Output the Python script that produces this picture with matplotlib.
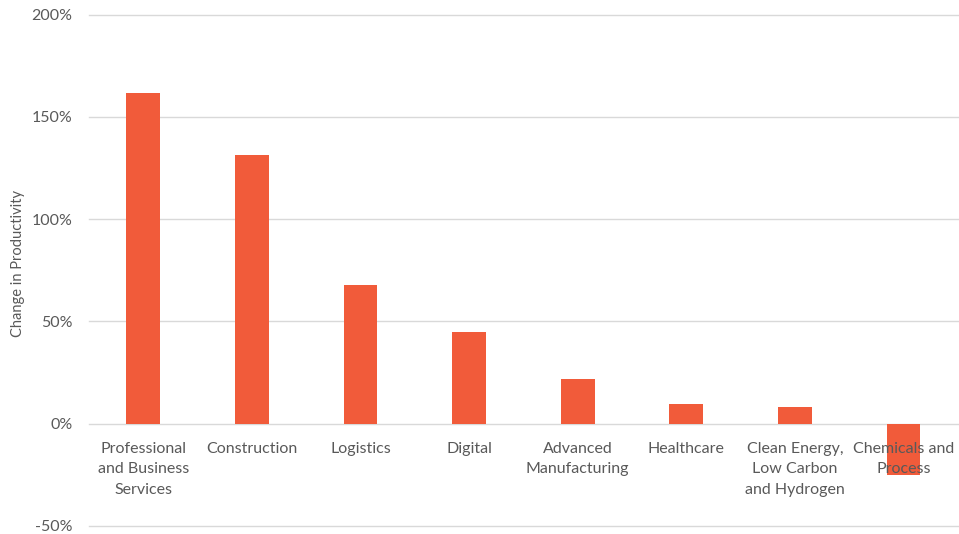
import matplotlib
matplotlib.use("Agg")
import matplotlib.pyplot as plt
from matplotlib.ticker import FuncFormatter

categories = [
    "Professional\nand Business\nServices",
    "Construction",
    "Logistics",
    "Digital",
    "Advanced\nManufacturing",
    "Healthcare",
    "Clean Energy,\nLow Carbon\nand Hydrogen",
    "Chemicals and\nProcess",
]
change_pct = [161.8, 131.3, 67.8, 45.0, 21.7, 9.6, 8.2, -25.4]
y_ticks = [-50, 0, 50, 100, 150, 200]

plt.rcParams["font.family"] = ["Lato", "DejaVu Sans"]
text_color = "#595959"
bar_color = "#F15B3A"

fig = plt.figure(figsize=(9.59, 5.34), dpi=100)
ax = fig.add_axes([0.0928, 0.0155, 0.906, 0.957])

x = list(range(len(categories)))
ax.bar(x, change_pct, width=0.31, color=bar_color, zorder=3)

ax.set_xlim(-0.5, len(categories) - 0.5)
ax.set_ylim(-50, 200)
ax.set_yticks(y_ticks)
ax.yaxis.set_major_formatter(FuncFormatter(lambda v, _: f"{int(v)}%"))
ax.grid(axis="y", color="#D9D9D9", linewidth=1.0, zorder=0)
for gl in ax.get_ygridlines():
    gl.set_clip_on(False)
ax.set_xticks([])
for s in ax.spines.values():
    s.set_visible(False)
ax.tick_params(axis="y", length=0, pad=12, labelsize=11.5, labelcolor=text_color)

for xi, label in zip(x, categories):
    ax.annotate(label, xy=(xi, 0), xytext=(0, -13), textcoords="offset points",
                ha="center", va="top", fontsize=11.5, color=text_color,
                linespacing=1.6, zorder=4)

fig.text(0.019, 0.506, "Change in Productivity", rotation=90, ha="center",
         va="center", fontsize=10.5, color=text_color)

fig.savefig("out.png", dpi=100)
